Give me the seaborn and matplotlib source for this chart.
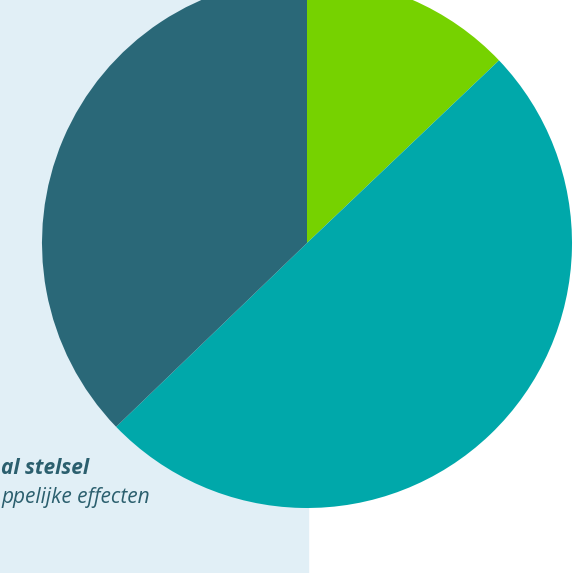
import matplotlib
matplotlib.use("Agg")
import matplotlib.pyplot as plt
from matplotlib.patches import Rectangle
import seaborn as sns

# slice shares (percent), clockwise from the top
labels = ["groen", "turquoise", "donker"]
shares = [12.9, 49.9, 37.2]
colors = ["#76D200", "#00A8AA", "#2A6878"]

legend_lines = ["al stelsel", "ppelijke effecten"]

sns.set_theme(style="white")
plt.rcParams['font.family'] = ['Open Sans', 'DejaVu Sans']

fig = plt.figure(figsize=(5.85, 5.73), dpi=100)
ax = fig.add_axes([0, 0, 1, 1])

# light blue panel behind the left half
ax.add_patch(Rectangle((0, 0), 308, 573, color="#E1EFF6", zorder=0))

ax.pie(shares, colors=colors, startangle=90, counterclock=False,
       center=(307, 330), radius=265, frame=True,
       wedgeprops={'linewidth': 0, 'zorder': 2})
ax.set_xlim(0, 585)
ax.set_ylim(0, 573)
ax.set_aspect('auto')
ax.set_axis_off()

ax.text(1, 573 - 468, legend_lines[0], ha='left', va='center',
        fontsize=15, fontweight='bold', fontstyle='italic', color="#2B5F6E", zorder=3)
ax.text(1, 573 - 498, legend_lines[1], ha='left', va='center',
        fontsize=15, fontstyle='italic', color="#2B5F6E", zorder=3)

fig.savefig("out.png", dpi=100)
